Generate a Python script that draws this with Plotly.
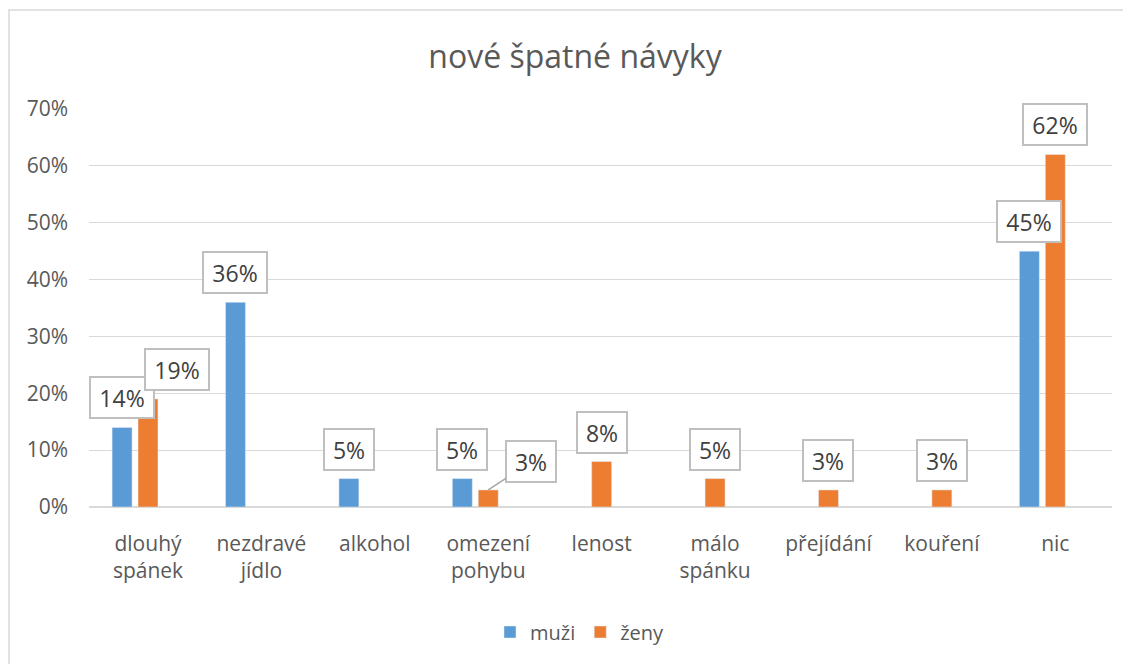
import plotly.graph_objects as go

categories = ["dlouhý<br>spánek", "nezdravé<br>jídlo", "alkohol", "omezení<br>pohybu",
              "lenost", "málo<br>spánku", "přejídání", "kouření", "nic"]
muzi = [0.14, 0.36, 0.05, 0.05, None, None, None, None, 0.45]
zeny = [0.19, None, None, 0.03, 0.08, 0.05, 0.03, 0.03, 0.62]
extra = [None] * len(categories)  # empty third series (keeps Excel spacing)
y_ticks = [0, 0.1, 0.2, 0.3, 0.4, 0.5, 0.6, 0.7]

BLUE = "#5b9bd5"
ORANGE = "#ed7d31"
FONT = "Open Sans"
GRAY = "#595959"

# page has an 8px body offset
L, T, PW, PH = 81, 101, 1023, 398
W, H = 1131, 664

fig = go.Figure()
fig.add_trace(go.Bar(name="muži", x=categories, y=muzi, marker_color=BLUE))
fig.add_trace(go.Bar(name="ženy", x=categories, y=zeny, marker_color=ORANGE))
fig.add_trace(go.Bar(name="", x=categories, y=extra, showlegend=False, hoverinfo="skip"))

SLOT = 26  # px distance between bar centers in a group
special = {("ženy", 0): dict(xshift=29), ("ženy", 3): dict(arrow=(43, -28))}

for name, vals, off in (("muži", muzi, -SLOT), ("ženy", zeny, 0)):
    for i, v in enumerate(vals):
        if v is None:
            continue
        txt = f"{round(v*100)}%"
        w = 60 if len(txt) == 3 else 46
        base = dict(x=categories[i], y=v, text=txt, xref="x", yref="y",
                    font=dict(family=FONT, size=23, color="#404040"),
                    bgcolor="white", bordercolor="#bfbfbf", borderwidth=2,
                    borderpad=1, width=w, height=37)
        sp = special.get((name, i), {})
        if "arrow" in sp:
            ax, ay = sp["arrow"]
            fig.add_annotation(**base, showarrow=True, ax=ax, ay=ay, arrowhead=0,
                               arrowcolor="#a6a6a6", arrowwidth=1.5, standoff=0,
                               xshift=off)
        else:
            fig.add_annotation(**base, showarrow=False, yanchor="bottom",
                               yshift=8, xshift=off + sp.get("xshift", 0))

# outer chart frame (top and left edges visible)
fig.add_shape(type="rect", xref="paper", yref="paper",
              x0=(1 - L) / PW, x1=1.2, y0=-0.6, y1=(T + PH - 2) / PH,
              line=dict(color="#d9d9d9", width=1.5), fillcolor="rgba(0,0,0,0)",
              layer="below")

fig.update_layout(
    width=W, height=H,
    margin=dict(l=L, r=W - L - PW, t=T, b=H - T - PH),
    paper_bgcolor="white", plot_bgcolor="white",
    barmode="group", bargap=0.314, bargroupgap=0.23,
    font=dict(family=FONT, color=GRAY),
    title=dict(text="nové špatné návyky", x=567 / W, xref="container", xanchor="center",
               y=1 - 49 / H, yref="container", yanchor="middle",
               font=dict(family=FONT, size=32, color=GRAY)),
    legend=dict(orientation="h", x=(572 - L) / PW, xanchor="center",
                y=(T + PH - 624) / PH, yanchor="middle",
                font=dict(family=FONT, size=20, color=GRAY)),
    showlegend=True,
)
fig.update_yaxes(range=[0, 0.7], tickvals=y_ticks, tickformat=".0%",
                 gridcolor="#d9d9d9", gridwidth=1, zeroline=True, zerolinecolor="#d9d9d9",
                 zerolinewidth=1.5, showline=False, ticks="", ticklabelstandoff=20,
                 tickfont=dict(family=FONT, size=21, color=GRAY))
fig.update_xaxes(showline=False, ticks="", ticklabelstandoff=22,
                 tickfont=dict(family=FONT, size=21, color=GRAY))

fig.write_html("out.html")
